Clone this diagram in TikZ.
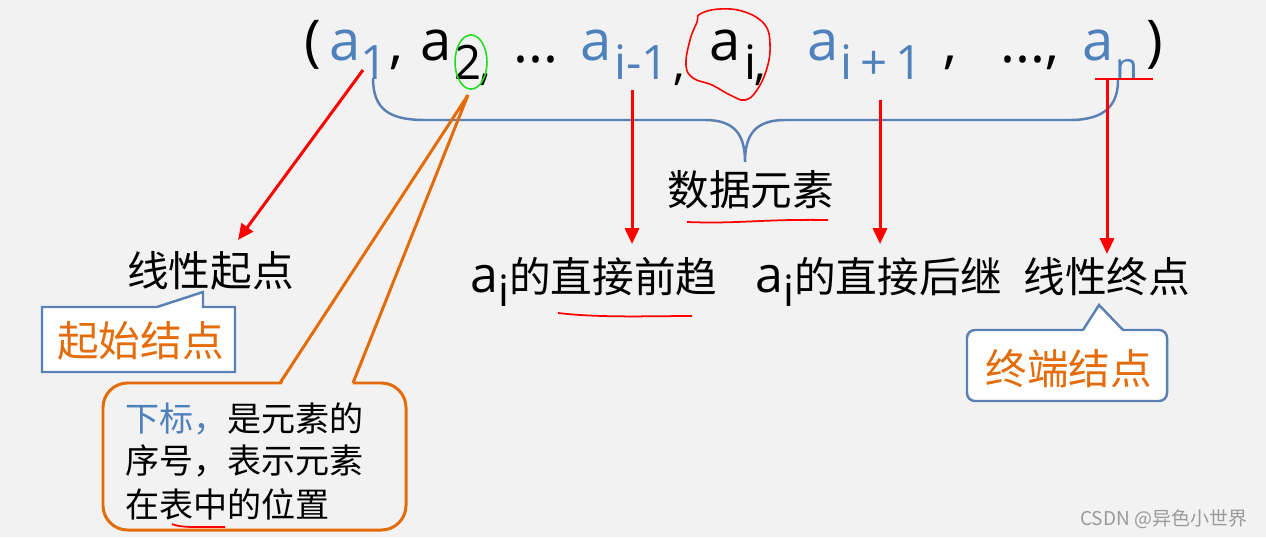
\documentclass[tikz,border=0pt]{standalone}
\usepackage{fontspec}
\setmainfont{Noto Sans CJK SC}
\newfontfamily\lat{Open Sans}
\usetikzlibrary{arrows.meta}
\definecolor{bg}{HTML}{F2F2F2}
\definecolor{tblue}{HTML}{4F81BD}
\definecolor{torange}{HTML}{E46C0A}
\definecolor{boxorange}{HTML}{E36C09}
\definecolor{bblue}{HTML}{5B80B4}
\definecolor{wmgray}{HTML}{9A9A9A}
\definecolor{gcircle}{HTML}{22DD22}
\newcommand{\aisub}{{\lat\fontsize{28.5}{30}\selectfont a\raisebox{-8pt}{\fontsize{24.6}{26}\selectfont i}}}
\tikzset{
  T/.style={anchor=base west, inner sep=0pt, font=\lat\fontsize{32}{36}\selectfont},
  S/.style={anchor=base west, inner sep=0pt, font=\lat\fontsize{27}{30}\selectfont},
  SN/.style={anchor=base west, inner sep=0pt, font=\lat\fontsize{21}{24}\selectfont},
  lbl/.style={anchor=base west, inner sep=0pt, font=\fontsize{23.7}{28}\selectfont},
  boxtxt/.style={anchor=base west, inner sep=0pt, font=\fontsize{19.4}{22}\selectfont},
  redarrow/.style={draw=red, line width=1.7pt, -{Triangle[length=9pt,width=8pt]}},
  redmark/.style={draw=red, line width=1pt},
  bluebox/.style={draw=bblue, line width=1.4pt, fill=white},
}
\begin{document}
\begin{tikzpicture}[x=0.02cm,y=-0.02cm]
\fill[bg] (0,0) rectangle (1266,537);
\useasboundingbox (0,0) rectangle (1266,537);

% ---- brace ----
\draw[bblue, line width=1.4pt] (373,78) .. controls (373,110) and (390,120) .. (425,120)
  -- (705,120) .. controls (735,120) and (745,135) .. (745,162)
  .. controls (745,135) and (755,120) .. (785,120)
  -- (1070,120) .. controls (1105,120) and (1118,105) .. (1118,80);

% ---- top sequence ----
\node[T] (lp) at (304,61) {(};
\node[T, text=tblue] (a1) at (329,61) {a};
\node[S, text=tblue] (s1) at (360,80) {1};
\node[T] (c1) at (389,63) {,};
\node[T] (a2) at (420,61) {a};
\node[S] (s2) at (454,80) {2};
\node[S] (c2) at (479,80) {,};
\node[T] (d1) at (513,63) {...};
\node[T, text=tblue] (ap) at (580,61) {a};
\node[S, text=tblue] (sp) at (614,80) {i-1};
\node[S] (c3) at (673,80) {,};
\node[T] (ai) at (709,61) {a};
\node[S] (si) at (744,80) {i};
\node[S] (c4) at (754,80) {,};
\node[T, text=tblue] (an1) at (807,61) {a};
\node[S, text=tblue] (sn1) at (840,80) {i\,+\,1};
\node[T] (c5) at (943,63) {,};
\node[T] (d2) at (1000,63) {...,};
\node[T, text=tblue] (an) at (1082,61) {a};
\node[SN, text=tblue] (sn) at (1115,80) {n};
\node[T] (rp) at (1146,61) {)};

% green ellipse around subscript 2
\draw[gcircle, line width=0.9pt] (471,62) ellipse [x radius=9.1pt, y radius=15.4pt];
% red freehand circle around a_i
\draw[red, line width=0.9pt] plot[smooth cycle, tension=0.7] coordinates
  {(700,14) (720,9) (745,12) (765,25) (770,45) (767,68) (757,90) (745,100) (730,95) (712,85) (693,78) (686,65) (690,40) (697,22)};

% ---- labels ----
\node[lbl] (shuju) at (667,205) {数据元素};
\node[lbl] (qidian) at (127,286) {线性起点};
\node[lbl] (qian) at (470,292) {\aisub 的直接前趋};
\node[lbl] (hou) at (755,292) {\aisub 的直接后继};
\node[lbl] (zhongdian) at (1023,292) {线性终点};

% ---- callout: 起始结点 ----
\draw[bluebox] (42,307) -- (157,307) -- (203,292) -- (203,307) -- (235,307)
  -- (235,372) -- (42,372) -- cycle;
\node[lbl, text=torange] (qishi) at (57,356) {起始结点};

% ---- callout: 终端结点 ----
\draw[bluebox, rounded corners=4.5pt] (967,330) rectangle (1167,401);
\fill[white] (1082.5,332.5) -- (1099,305) -- (1124,332.5) -- cycle;
\draw[draw=bblue, line width=1.4pt] (1083,330) -- (1099,305) -- (1123,330);
\node[lbl, text=torange] (zhongduan) at (985,384) {终端结点};

% ---- orange callout ----
\draw[draw=boxorange, line width=1.7pt, fill=bg, rounded corners=14pt] (103,383) rectangle (406,530);
\fill[bg] (281,386) -- (289,370) -- (358,370) -- (352,386) -- cycle;
\draw[draw=boxorange, line width=1.7pt] (280,383) -- (468,95) -- (353,383);
\node[boxtxt] (l1) at (125,431) {\textcolor{tblue}{下标，}是元素的};
\node[boxtxt] (l2) at (125,473) {序号，表示元素};
\node[boxtxt] (l3) at (125,517) {在表中的位置};

% ---- red marks ----
\draw[redmark] (687,222) .. controls (740,224) and (760,219) .. (828,220);
\draw[redmark] (558,313) .. controls (600,318) and (650,316) .. (692,316);
\draw[redmark] (172,524) .. controls (180,528) and (200,527) .. (225,527);
\draw[red, line width=1.4pt] (1095,79) -- (1153,79);

% ---- red arrows ----
\coordinate (p1) at (363,70);
\coordinate (q1) at (238,240);
\coordinate (p2) at (632,90);
\coordinate (q2) at (632,244);
\coordinate (p3) at (880,100);
\coordinate (q3) at (880,244);
\coordinate (p4) at (1107,79);
\coordinate (q4) at (1107,254);
\draw[redarrow] (p1) -- (q1);
\draw[redarrow] (p2) -- (q2);
\draw[redarrow] (p3) -- (q3);
\draw[redarrow] (p4) -- (q4);

% ---- watermark ----
\node[anchor=base west, inner sep=0pt, text=wmgray, font=\fontsize{10.8}{12}\selectfont] (wm) at (1080,525) {CSDN @异色小世界};
\end{tikzpicture}
\end{document}
